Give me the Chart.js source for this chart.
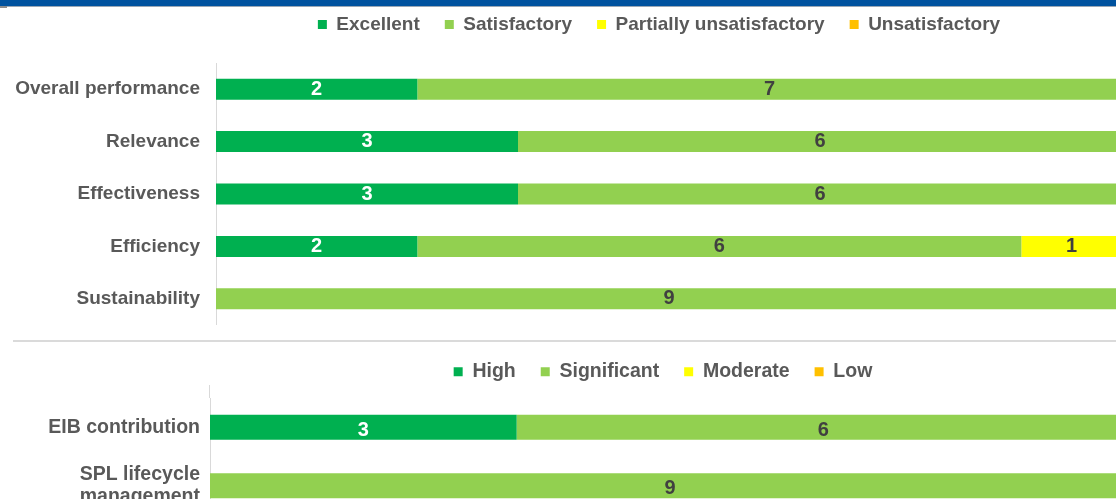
<!DOCTYPE html>
<html>
<head>
<meta charset="utf-8">
<script src="https://cdn.jsdelivr.net/npm/chart.js@4.4.1/dist/chart.umd.min.js"></script>
<style>
  html, body { margin: 0; padding: 0; background: #ffffff; overflow: hidden; width: 1116px; height: 499px; }
  #wrap { position: relative; width: 1116px; height: 499px; overflow: hidden; }
  #topBand { position: absolute; left: 0; top: 0; width: 1116px; height: 6px; background: #00529f; border-bottom: 1px solid #9aa7b5; z-index: 3; }
  #stub { position: absolute; left: 0; top: 6px; width: 7px; height: 2px; background: #8c8c8c; z-index: 3; }
  #sep { position: absolute; left: 13px; top: 340px; width: 1103px; height: 2px; background: #dadada; z-index: 3; }
  #c1 { position: absolute; left: 0; top: -10px; }
  #c2 { position: absolute; left: 0; top: 337px; }
</style>
</head>
<body>
<div id="wrap">
  <canvas id="c1" width="1140" height="335"></canvas>
  <canvas id="c2" width="1140" height="178"></canvas>
  <div id="topBand"></div>
  <div id="stub"></div>
  <div id="sep"></div>
</div>
<script>
// ---- Data: top chart (performance ratings) ----
const topCategories = ['Overall performance', 'Relevance', 'Effectiveness', 'Efficiency', 'Sustainability'];
const excellent = [2, 3, 3, 2, 0];
const satisfactory = [7, 6, 6, 6, 9];
const partiallyUnsatisfactory = [0, 0, 0, 1, 0];
const unsatisfactory = [0, 0, 0, 0, 0];

// ---- Data: bottom chart (EIB contribution) ----
const bottomCategories = ['EIB contribution', ['SPL lifecycle', 'management']];
const high = [3, 0];
const significant = [6, 9];
const moderate = [0, 0];
const low = [0, 0];

const xMax = 9;

const C_DARK = '#00b050';
const C_LIGHT = '#92d050';
const C_YELLOW = '#ffff00';
const C_ORANGE = '#ffc000';
const TXT = '#595959';
const FONT = "'Liberation Sans', Arial, sans-serif";

const valueLabels = {
  id: 'valueLabels',
  afterDatasetsDraw(chart, args, opts) {
    const ctx = chart.ctx;
    ctx.save();
    ctx.font = 'bold 20px ' + FONT;
    ctx.textAlign = 'center';
    ctx.textBaseline = 'middle';
    chart.data.datasets.forEach((ds, i) => {
      const meta = chart.getDatasetMeta(i);
      if (meta.hidden) return;
      meta.data.forEach((el, j) => {
        const v = ds.data[j];
        if (!v) return;
        const p = el.getCenterPoint();
        ctx.fillStyle = ds.labelColor;
        ctx.fillText(String(v), p.x, p.y + (opts.dy || 0));
      });
    });
    ctx.restore();
  }
};

// extra height under the legend, and a small horizontal shift of the legend row
function legendTweak(extra, shiftX) {
  return {
    id: 'legendTweak',
    beforeInit(chart) {
      const lg = chart.legend;
      const origFit = lg.fit;
      lg.fit = function () { origFit.call(this); this.height += extra; };
      const origDraw = lg.draw;
      lg.draw = function () {
        this.left += shiftX; this.right += shiftX;
        origDraw.apply(this, arguments);
        this.left -= shiftX; this.right -= shiftX;
      };
    }
  };
}

function axisExtension(up) {
  return {
    id: 'axisExt',
    afterDraw(chart) {
      const ctx = chart.ctx;
      const a = chart.chartArea;
      ctx.save();
      ctx.strokeStyle = '#d9d9d9';
      ctx.lineWidth = 1;
      ctx.beginPath();
      ctx.moveTo(Math.round(a.left) - 0.5, a.top - up);
      ctx.lineTo(Math.round(a.left) - 0.5, a.top);
      ctx.stroke();
      ctx.restore();
    }
  };
}

function makeDataset(label, data, color, labelColor, barPct) {
  return {
    label: label,
    data: data,
    backgroundColor: color,
    borderWidth: 0,
    labelColor: labelColor,
    categoryPercentage: 1,
    barPercentage: barPct
  };
}

function buildOptions(fontSize, axisWidth, tickPad, padRight, dy) {
  return {
    indexAxis: 'y',
    responsive: false,
    animation: false,
    layout: { padding: { left: 0, right: padRight, top: 0, bottom: 0 } },
    scales: {
      x: { stacked: true, min: 0, max: xMax, display: false },
      y: {
        stacked: true,
        grid: { display: false, drawTicks: false },
        border: { display: true, color: '#d9d9d9', width: 1 },
        ticks: {
          color: TXT,
          padding: tickPad,
          font: { family: FONT, size: fontSize, weight: 'bold', lineHeight: 1.15 }
        },
        afterFit(scale) {
          scale.width = axisWidth;
          scale.paddingTop = 0;
          scale.paddingBottom = 0;
        }
      }
    },
    plugins: {
      tooltip: { enabled: false },
      valueLabels: { dy: dy },
      legend: {
        position: 'top',
        align: 'center',
        fullSize: false,
        labels: {
          color: TXT,
          boxWidth: 9,
          boxHeight: 9,
          padding: 25,
          font: { family: FONT, size: fontSize, weight: 'bold' }
        }
      }
    }
  };
}

new Chart(document.getElementById('c1'), {
  type: 'bar',
  data: {
    labels: topCategories,
    datasets: [
      makeDataset('Excellent', excellent, C_DARK, '#ffffff', 0.4),
      makeDataset('Satisfactory', satisfactory, C_LIGHT, '#404040', 0.4),
      makeDataset('Partially unsatisfactory', partiallyUnsatisfactory, C_YELLOW, '#404040', 0.4),
      makeDataset('Unsatisfactory', unsatisfactory, C_ORANGE, '#404040', 0.4)
    ]
  },
  options: buildOptions(19, 216, 16, 18, 0),
  plugins: [valueLabels, legendTweak(19, -10)]
});

new Chart(document.getElementById('c2'), {
  type: 'bar',
  data: {
    labels: bottomCategories,
    datasets: [
      makeDataset('High', high, C_DARK, '#ffffff', 0.43),
      makeDataset('Significant', significant, C_LIGHT, '#404040', 0.43),
      makeDataset('Moderate', moderate, C_YELLOW, '#404040', 0.43),
      makeDataset('Low', low, C_ORANGE, '#404040', 0.43)
    ]
  },
  options: buildOptions(19.5, 210, 10, 10, 3),
  plugins: [valueLabels, legendTweak(6.5, -7), axisExtension(13)]
});
</script>
</body>
</html>
